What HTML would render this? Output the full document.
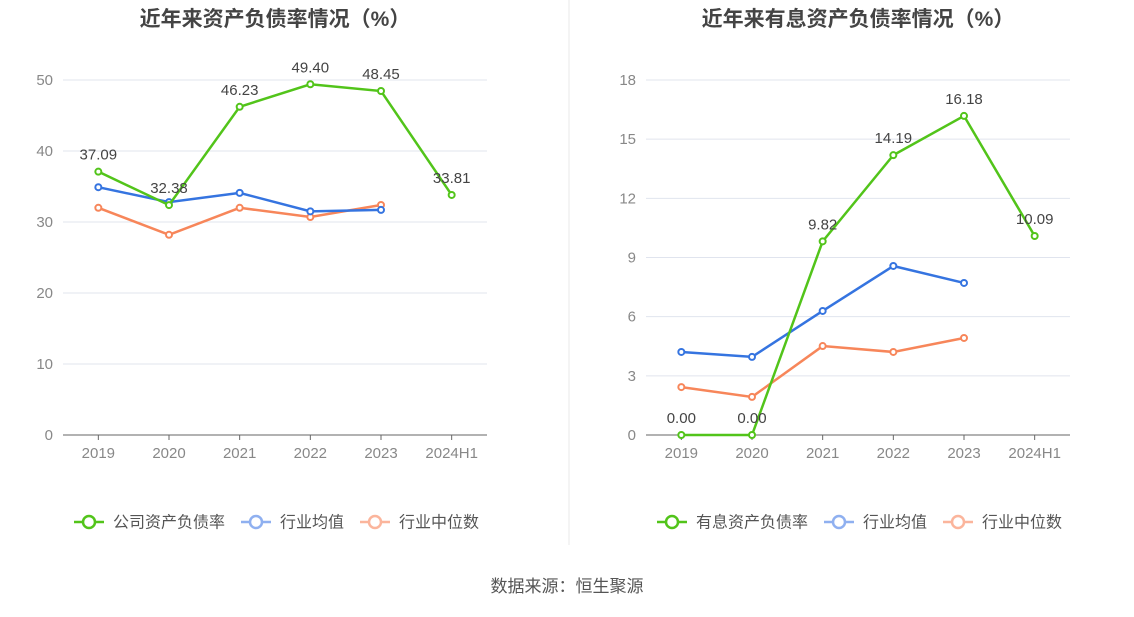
<!DOCTYPE html>
<html><head><meta charset="utf-8">
<style>
body{margin:0;background:#fff;font-family:"Liberation Sans","Noto Sans CJK SC",sans-serif;}
svg text{font-family:"Liberation Sans","Noto Sans CJK SC",sans-serif;}
</style></head>
<body>
<svg id="c" width="1134" height="612" xmlns="http://www.w3.org/2000/svg">
<line x1="569" y1="0" x2="569" y2="545" stroke="#e8e8e8"/>
<text x="567" y="592" text-anchor="middle" font-size="17" fill="#555">数据来源：恒生聚源</text>
</svg>
<script>
const years=["2019","2020","2021","2022","2023","2024H1"];
const leftMain=[37.09,32.38,46.23,49.40,48.45,33.81];
const leftAvg=[34.9,32.8,34.1,31.5,31.7];
const leftMed=[32.0,28.2,32.0,30.7,32.4];
const leftTicks=[0,10,20,30,40,50];
const rightMain=[0.00,0.00,9.82,14.19,16.18,10.09];
const rightAvg=[4.21,3.96,6.29,8.57,7.71];
const rightMed=[2.43,1.93,4.51,4.21,4.92];
const rightTicks=[0,3,6,9,12,15,18];
const NS="http://www.w3.org/2000/svg";
const svg=document.getElementById('c');
function mk(t,a,p){const e=document.createElementNS(NS,t);for(const k in a)e.setAttribute(k,a[k]);(p||svg).appendChild(e);return e;}
function panel(cfg){
 const g=mk('g',{});
 
 
 const x0=cfg.x0,x1=cfg.x1,yb=435,yt=80,max=cfg.ticks[cfg.ticks.length-1];
 const step=(x1-x0)/years.length;
 const X=i=>x0+step*(i+0.5);
 const Y=v=>yb-(v/max)*(yb-yt);
 const t=mk('text',{x:(x0+x1)/2,y:26,'text-anchor':'middle','font-size':21,'font-weight':'bold',fill:'#444'},g);
 t.textContent=cfg.title;
 
 
 cfg.ticks.forEach(v=>{
  if(v>0){const l=mk('line',{x1:x0,x2:x1,y1:Y(v),y2:Y(v),stroke:'#e0e4ee'},g);
  
  }
  const tx=mk('text',{x:x0-10,y:Y(v)+5,'text-anchor':'end','font-size':15,fill:'#888'},g);
  tx.textContent=v;
  
  
 });
 const ax=mk('line',{x1:x0,x2:x1,y1:yb,y2:yb,stroke:'#666'},g);
 
 
 years.forEach((y,i)=>{
  mk('line',{x1:X(i),x2:X(i),y1:yb,y2:yb+5,stroke:'#666'},g);
  const tx=mk('text',{x:X(i),y:yb+23,'text-anchor':'middle','font-size':15,fill:'#888'},g);
  tx.textContent=y;
  
  
 });
 function series(vals,color,name,labels){
  const pts=vals.map((v,i)=>X(i)+','+Y(v)).join(' ');
  const pl=mk('polyline',{points:pts,fill:'none',stroke:color,'stroke-width':2.5},g);
  
  
  vals.forEach((v,i)=>{
   const c=mk('circle',{cx:X(i),cy:Y(v),r:3,fill:'#fff',stroke:color,'stroke-width':2},g);
   
   
   if(labels){const tx=mk('text',{x:X(i),y:Y(v)-12,'text-anchor':'middle','font-size':15,fill:'#444'},g);
    tx.textContent=v.toFixed(2);
    
    }
  });
 }
 series(cfg.med,'#f7865a','industry-median');
 series(cfg.avg,'#3574e0','industry-average');
 series(cfg.main,'#52c41a','main',true);
 const items=[[cfg.mainName,'#52c41a'],['行业均值','#8fb0f0'],['行业中位数','#fbb59c']];
 let lx=cfg.legX;
 items.forEach(([n,c])=>{
  const lg=mk('g',{},g);
  
  
  mk('line',{x1:lx,x2:lx+30,y1:522,y2:522,stroke:c,'stroke-width':2.5},lg);
  mk('circle',{cx:lx+15,cy:522,r:6,fill:'#fff',stroke:c,'stroke-width':2.5},lg);
  const tx=mk('text',{x:lx+39,y:527.5,'font-size':16,fill:'#555'},lg);
  tx.textContent=n;
  lx+=39+n.length*16+16;
 });
}
panel({id:'left-chart',x0:63,x1:487,ticks:leftTicks,main:leftMain,avg:leftAvg,med:leftMed,title:'近年来资产负债率情况（%）',mainName:'公司资产负债率',legX:74});
panel({id:'right-chart',x0:646,x1:1070,ticks:rightTicks,main:rightMain,avg:rightAvg,med:rightMed,title:'近年来有息资产负债率情况（%）',mainName:'有息资产负债率',legX:657});
</script>
</body></html>
